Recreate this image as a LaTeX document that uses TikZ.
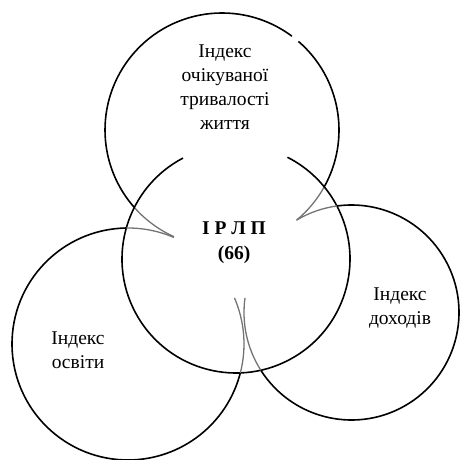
\documentclass[tikz,border=0pt]{standalone}
\usepackage{fontspec}
\setmainfont{Liberation Serif}
\usetikzlibrary{positioning}

\begin{document}
\begin{tikzpicture}[x=1pt,y=1pt,
                    every node/.style={align=center,font=\fontsize{19.5}{24}\selectfont}]
  \tikzstyle{ring}=[draw=black,line width=1.6pt]
  \tikzstyle{faded}=[draw=black!55,line width=1.3pt]

  \useasboundingbox (0,0) rectangle (461,460);

  \coordinate (T) at (222,330);
  \coordinate (C) at (236,201);
  \coordinate (L) at (128,116);
  \coordinate (R) at (351.5,147.5);

  % top circle
  \draw[ring] ([shift={(-29.1:117)}]T) arc (-29.1:49.2:117);
  \draw[ring] ([shift={(53.3:117)}]T) arc (53.3:221.5:117);
  \draw[faded] ([shift={(221.5:117)}]T) arc (221.5:245.8:117);
  \draw[faded] ([shift={(-50.5:117)}]T) arc (-50.5:-29.1:117);

  % middle circle
  \draw[ring] ([shift={(117.7:114)}]C) arc (117.7:423.2:114);

  % left circle
  \draw[ring] ([shift={(90.8:116)}]L) arc (90.8:345.6:116);
  \draw[faded] ([shift={(66.7:116)}]L) arc (66.7:90.8:116);
  \draw[faded] ([shift={(-14.4:116)}]L) arc (-14.4:23.4:116);

  % right circle
  \draw[ring] ([shift={(212.5:107.5)}]R) arc (212.5:457.8:107.5);
  \draw[faded] ([shift={(97.8:107.5)}]R) arc (97.8:120.5:107.5);
  \draw[faded] ([shift={(172.2:107.5)}]R) arc (172.2:212.5:107.5);

  % labels
  \node (life) at (225,373) {Індекс\\очікуваної\\тривалості\\життя};
  \node[font=\fontsize{19.5}{25}\selectfont\bfseries] (hdi) at (234,217) {І Р Л П\\(66)};
  \node (edu) at (78,110) {Індекс\\освіти};
  \node (inc) at (400,152) {Індекс\\доходів};
\end{tikzpicture}
\end{document}
